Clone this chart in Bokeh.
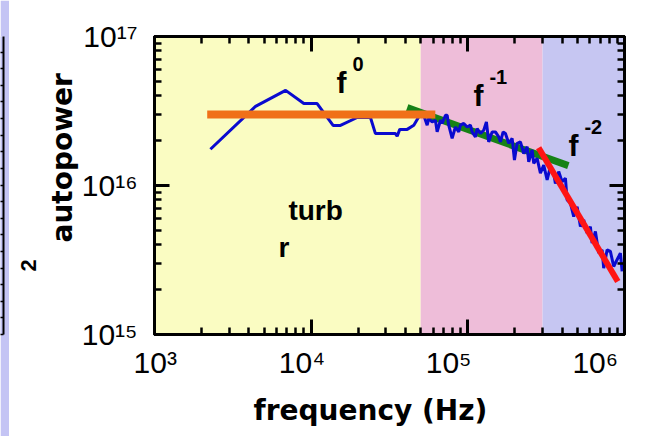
from bokeh.embed import file_html
from bokeh.layouts import row
from bokeh.models import (CustomJSTickFormatter, FixedTicker, Label, LinearAxis,
                          LogAxis, LogScale, LogTicker, Range1d,
                          SingleIntervalTicker, Title)
from bokeh.plotting import figure
from bokeh.resources import INLINE

# ---------------------------------------------------------------- data
# measured autopower spectrum (Hz, arbitrary units)
freq_hz = [
    2275, 4415, 6870, 8980, 10920, 13800, 15380, 19660, 23900, 25720,
    34500, 35400, 36760, 41000, 45200, 49300,
    52300, 55000, 56300, 59200, 62100, 63700, 66900, 68500, 72000, 73800,
    75500, 79400, 83300, 87500, 89700, 94200, 99000, 103900, 106500, 111800,
    114700, 120300, 126300, 131400, 135900, 142900, 150000, 157500, 161500,
    168000, 173800, 182400, 191800, 198400, 206400, 216600, 227400, 239000,
    244700, 257200,
    263400, 276900, 290600, 305100, 320800, 336600, 353300, 362200, 380200,
    399700, 419600, 430200, 451600, 474100, 498400, 523200, 549000, 577100,
    605800, 621100, 652100, 684600, 719600, 736700, 774500, 812800, 853300,
    874800, 918300, 941400, 965400,
]
autopower = [
    1.75e16, 3.40e16, 4.35e16, 3.55e16, 3.55e16, 2.53e16, 2.53e16, 2.86e16,
    2.86e16, 2.23e16, 2.23e16, 2.14e16, 2.38e16, 2.38e16, 2.54e16, 2.96e16,
    2.96e16, 2.54e16, 2.815e16, 2.67e16, 2.74e16, 2.29e16, 2.74e16, 2.61e16,
    2.96e16, 2.96e16, 2.54e16, 2.07e16, 2.47e16, 2.29e16, 2.54e16, 2.61e16,
    2.47e16, 2.54e16, 2.29e16, 2.12e16, 2.41e16, 2.235e16, 2.35e16, 2.67e16,
    1.96e16, 2.29e16, 2.29e16, 2.12e16, 1.96e16, 2.29e16, 2.235e16, 1.92e16,
    2.07e16, 1.48e16, 1.92e16, 1.96e16, 1.64e16, 1.82e16, 1.44e16, 1.73e16,
    1.41e16, 1.52e16, 1.21e16, 1.37e16, 1.09e16, 1.34e16, 1.21e16, 1.03e16,
    1.24e16, 1.06e16, 1.12e16, 8.0e15, 7.6e15, 6.19e15, 7.21e15, 5.30e15,
    5.88e15, 4.79e15, 5.30e15, 4.11e15, 4.91e15, 3.52e15, 3.70e15, 2.79e15,
    3.70e15, 3.61e15, 2.86e15, 3.02e15, 3.34e15, 3.52e15, 2.65e15,
]

# power-law fits: f^0, f^-1, f^-2
fit_f0_freq = [2170, 62000]
fit_f0_power = [3.0e16, 3.0e16]
fit_f1_freq = [41000, 438000]
fit_f1_power = [3.33e16, 1.36e16]
fit_f2_freq = [283000, 906000]
fit_f2_power = [1.79e16, 2.27e15]

# shaded frequency regimes
band_edges = [1e3, 5e4, 3e5, 1e6]
band_colors = ["#FAFCC2", "#EEBDD9", "#C6C6F2"]

# regime annotations: (base text, superscript, x, y)
regime_labels = [
    ("f", "0", 14500, 4.24e16),
    ("f", "-1", 108600, 3.455e16),
    ("f", "-2", 438500, 1.60e16),
]
inner_words = [("turb", 7160, 5.81e15), ("r", 6180, 3.31e15)]

x_ticks = [1e3, 1e4, 1e5, 1e6]
x_tick_labels = ["10\u00b3", "10\u2074", "10\u2075", "10\u2076"]
y_ticks = [1e15, 1e16, 1e17]
y_tick_labels = ["10\u00b9\u2075", "10\u00b9\u2076", "10\u00b9\u2077"]

# ---------------------------------------------------------------- styles
BLUE = "#0A0ACF"
ORANGE = "#F07018"
GREEN = "#168216"
RED = "#FF1414"
LAVENDER = "#C4C4F4"
SANS = "Liberation Sans"
WIDE = "DejaVu Sans"


def blank_labels():
    return CustomJSTickFormatter(code="return ''")


def listed_labels(values, texts):
    return CustomJSTickFormatter(
        args=dict(tick_values=values, tick_texts=texts),
        code="""
        const i = tick_values.findIndex(
            t => Math.abs(Math.log10(t) - Math.log10(tick)) < 1e-6);
        return i >= 0 ? tick_texts[i] : '';
        """)


p = figure(width=646, height=436, x_axis_type="log", y_axis_type="log",
           x_range=Range1d(band_edges[0], band_edges[-1]),
           y_range=Range1d(y_ticks[0], y_ticks[-1]),
           output_backend="svg", toolbar_location=None,
           min_border_left=145, min_border_right=31,
           min_border_top=36, min_border_bottom=101)
p.grid.visible = False
p.background_fill_color = "white"
p.border_fill_color = "white"
p.outline_line_color = "black"
p.outline_line_width = 3

# frame ticks on all four sides, pointing inward
p.add_layout(LogAxis(), "above")
p.add_layout(LogAxis(), "right")
for ax in list(p.xaxis) + list(p.yaxis):
    ax.ticker = LogTicker(mantissas=[1], num_minor_ticks=10)
    ax.formatter = blank_labels()
    ax.major_label_text_font_size = "1px"
    ax.major_label_standoff = 0
    ax.major_tick_in = 15
    ax.major_tick_out = 0
    ax.minor_tick_in = 7
    ax.minor_tick_out = 0
    ax.major_tick_line_width = 3
    ax.minor_tick_line_width = 2.5
    ax.major_tick_line_color = "black"
    ax.minor_tick_line_color = "black"
    ax.axis_line_width = 3
    ax.axis_line_color = "black"

# y tick labels on the left tick axis
left_ax = p.left[0]
left_ax.formatter = listed_labels(y_ticks, y_tick_labels)
left_ax.major_label_standoff = 17
left_ax.major_label_text_font = SANS
left_ax.major_label_text_font_size = "30px"
left_ax.major_label_text_color = "black"

# x tick labels sit on a slightly tighter decade spacing than the frame
p.extra_x_ranges = {"ticklabels": Range1d(10 ** 2.995, 10 ** 6.199)}
p.extra_x_scales = {"ticklabels": LogScale()}
x_label_axis = LogAxis(x_range_name="ticklabels", ticker=FixedTicker(ticks=x_ticks),
                       formatter=listed_labels(x_ticks, x_tick_labels),
                       axis_line_color=None, major_tick_line_color=None,
                       minor_tick_line_color=None, major_tick_in=0, major_tick_out=0,
                       minor_tick_in=0, minor_tick_out=0, major_label_standoff=11,
                       major_label_text_font=SANS, major_label_text_font_size="30px",
                       major_label_text_color="black")
p.add_layout(x_label_axis, "below")

# axis titles
p.add_layout(Title(text="frequency (Hz)", align="left", offset=99, standoff=20,
                   text_font=WIDE, text_font_style="bold", text_font_size="28px",
                   text_color="black"), "below")
p.add_layout(Title(text="autopower", align="left", offset=92, standoff=0,
                   text_font=WIDE, text_font_style="bold", text_font_size="28px",
                   text_color="black"), "left")
p.add_layout(Title(text="2", align="left", offset=63, standoff=16,
                   text_font=SANS, text_font_style="bold", text_font_size="22px",
                   text_color="black"), "left")

# regime backgrounds
p.quad(left=band_edges[:-1], right=band_edges[1:],
       bottom=p.y_range.start, top=p.y_range.end,
       fill_color=band_colors, line_color=None)

# spectrum and fits
p.line(fit_f1_freq, fit_f1_power, line_width=7, line_color=GREEN, line_cap="butt")
p.line(freq_hz, autopower, line_width=3, line_color=BLUE)
p.line(fit_f0_freq, fit_f0_power, line_width=8, line_color=ORANGE, line_cap="butt")
p.line(fit_f2_freq, fit_f2_power, line_width=6, line_color=RED, line_cap="butt")

# regime annotations
for base, sup, fx, fy in regime_labels:
    p.add_layout(Label(x=fx, y=fy, text=base, y_offset=10, text_font=SANS,
                       text_font_style="bold", text_font_size="30px",
                       text_align="left", text_baseline="alphabetic",
                       text_color="black"))
    p.add_layout(Label(x=fx, y=fy, text=sup, x_offset=16, y_offset=28,
                       text_font=SANS, text_font_style="bold", text_font_size="20px",
                       text_align="left", text_baseline="alphabetic",
                       text_color="black"))
for word, wx, wy in inner_words:
    p.add_layout(Label(x=wx, y=wy, text=word, y_offset=10, text_font=SANS,
                       text_font_style="bold", text_font_size="28px",
                       text_align="left", text_baseline="alphabetic",
                       text_color="black"))

# edge of the neighbouring panel on the left
strip = figure(width=9, height=436, x_range=Range1d(0, 1), y_range=Range1d(0, 17.94),
               x_axis_location=None, y_axis_location=None,
               output_backend="svg", toolbar_location=None,
               min_border_left=0, min_border_right=6,
               min_border_top=0, min_border_bottom=0)
strip.grid.visible = False
strip.background_fill_color = LAVENDER
strip.border_fill_color = LAVENDER
strip.outline_line_color = None
edge_axis = LinearAxis(ticker=SingleIntervalTicker(interval=1),
                       formatter=blank_labels(), major_label_standoff=0,
                       major_label_text_font_size="1px",
                       major_tick_in=3, major_tick_out=0,
                       minor_tick_in=0, minor_tick_out=0,
                       major_tick_line_width=1.5, axis_line_width=2,
                       axis_line_color="black", major_tick_line_color="black")
strip.add_layout(edge_axis, "right")

layout = row(strip, p)
open("out.html", "w").write(file_html(layout, INLINE))
